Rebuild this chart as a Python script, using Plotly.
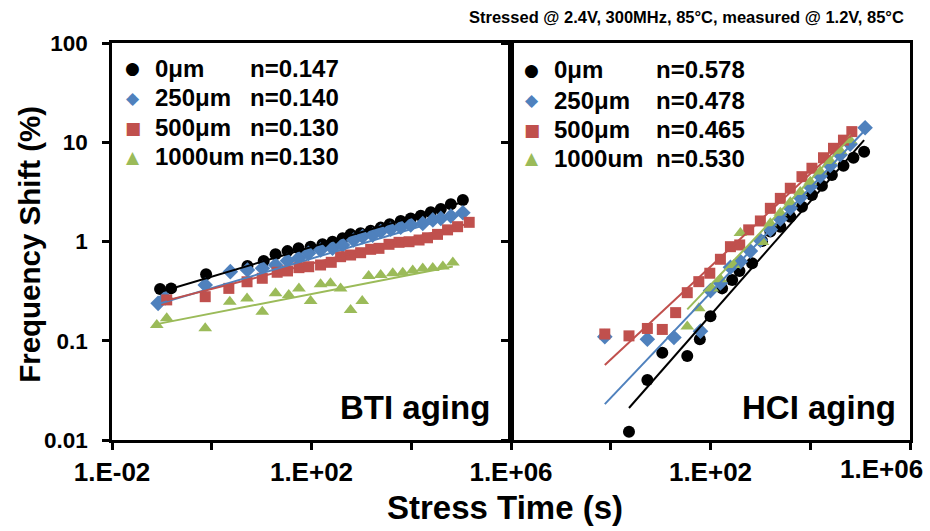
import plotly.graph_objects as go
from plotly.subplots import make_subplots

# ---------------- data (time in s, frequency shift in %) ----------------
NAMES = ["0μm", "250μm", "500μm", "1000um"]
COLORS = ["#000000", "#4F81BD", "#C0504D", "#9BBB59"]
SYMBOLS = ["circle", "diamond", "square", "triangle-up"]
GLYPHS = ["●", "◆", "■", "▲"]
N_BTI = ["n=0.147", "n=0.140", "n=0.130", "n=0.130"]
N_HCI = ["n=0.578", "n=0.478", "n=0.465", "n=0.530"]

# BTI aging
bti_t_0 = [0.092, 0.153, 0.77, 5.2, 11, 19, 33, 55, 96, 166, 264, 420, 608, 966,
           1535, 2438, 3698, 6150, 9770, 15520, 24660, 39170, 62230, 108400]
bti_v_0 = [0.332, 0.337, 0.468, 0.567, 0.637, 0.743, 0.80, 0.855, 0.887, 0.938, 0.995,
           1.08, 1.18, 1.21, 1.28, 1.38, 1.49, 1.61, 1.71, 1.82, 1.97, 2.12, 2.37, 2.62]
bti_t_250 = [0.084, 0.116, 0.74, 2.36, 5.2, 10.4, 19, 33, 55, 87, 152, 264, 420, 698,
             1060, 1683, 2438, 3873, 6150, 9770, 17020, 27040, 39170, 62230, 108400]
bti_v_250 = [0.238, 0.27, 0.365, 0.497, 0.516, 0.537, 0.58, 0.641, 0.678, 0.76, 0.82,
             0.855, 0.92, 1.035, 1.12, 1.16, 1.26, 1.33, 1.39, 1.47, 1.52, 1.65, 1.71,
             1.81, 1.95]
bti_t_500 = [0.125, 0.74, 2.2, 5.1, 10.3, 20.5, 33, 56, 88, 152, 249, 383, 608, 966,
             1535, 2254, 3580, 5690, 9030, 14350, 21180, 33650, 53460, 84920, 145200]
bti_v_500 = [0.258, 0.278, 0.337, 0.393, 0.426, 0.49, 0.505, 0.545, 0.557, 0.58, 0.617,
             0.703, 0.731, 0.771, 0.834, 0.853, 0.937, 0.981, 0.995, 1.035, 1.09, 1.18,
             1.31, 1.41, 1.56]
bti_t_1000 = [0.079, 0.125, 0.74, 2.3, 5.1, 10.3, 19, 35, 56, 96, 152, 240, 383, 608,
              1040, 1400, 2438, 4250, 6750, 10700, 17000, 27000, 43000, 68200]
bti_v_1000 = [0.144, 0.169, 0.134, 0.247, 0.267, 0.196, 0.301, 0.289, 0.337, 0.251,
              0.371, 0.38, 0.337, 0.204, 0.251, 0.45, 0.46, 0.48, 0.485, 0.51, 0.535,
              0.54, 0.56, 0.615]

# HCI aging
hci_t_0 = [2.32, 5.42, 10.8, 34.2, 61.1, 100, 171, 272, 380, 682, 1081, 1585, 2512,
           3981, 6823, 10810, 17140, 27160, 46340, 73450, 120200]
hci_v_0 = [0.0121, 0.0403, 0.0759, 0.0702, 0.1035, 0.177, 0.337, 0.409, 0.505, 0.603,
           1.01, 1.26, 1.41, 1.78, 2.24, 2.94, 3.65, 4.68, 5.8, 6.98, 8.03]
hci_t_250 = [0.76, 5.42, 18.5, 63, 100, 158, 251, 398, 631, 1000, 1585, 2512, 3981,
             6310, 10000, 15850, 25120, 39810, 63100, 125900]
hci_v_250 = [0.11, 0.1035, 0.108, 0.125, 0.32, 0.382, 0.55, 0.627, 0.80, 1.03, 1.32,
             1.69, 2.17, 2.77, 3.56, 4.56, 5.83, 7.48, 9.58, 14.0]
hci_t_500 = [0.76, 2.32, 5.42, 10.8, 20, 34.2, 58.3, 96.8, 158, 251, 385, 583, 1000,
             1585, 2512, 3981, 6823, 10810, 18450, 29240, 46340, 68230]
hci_v_500 = [0.117, 0.112, 0.133, 0.130, 0.192, 0.305, 0.394, 0.479, 0.662, 0.887,
             0.923, 1.31, 1.61, 2.16, 2.72, 3.44, 4.5, 5.47, 6.98, 8.69, 10.5, 12.8]
hci_t_1000 = [34.2, 58.3, 108, 158, 292, 398, 1100, 1585, 2512, 3981, 6310, 10000,
              15850, 25120, 39810, 63100]
hci_v_1000 = [0.139, 0.212, 0.337, 0.416, 0.58, 1.22, 0.99, 1.53, 1.95, 2.48, 3.15,
              4.01, 5.08, 6.47, 8.22, 10.5]

# power-law trend lines (start / end points)
fit_bti_t0 = [0.092, 0.084, 0.125, 0.079]
fit_bti_v0 = [0.31, 0.235, 0.255, 0.147]
fit_bti_t1 = [108400, 108400, 145200, 68200]
fit_bti_v1 = [2.5, 1.9, 1.52, 0.56]
fit_hci_t0 = [2.32, 0.76, 0.76, 34.2]
fit_hci_v0 = [0.021, 0.023, 0.057, 0.207]
fit_hci_t1 = [120200, 125900, 68230, 63100]
fit_hci_v1 = [10.5, 13.3, 11.8, 11.0]

BTI = [(bti_t_0, bti_v_0), (bti_t_250, bti_v_250), (bti_t_500, bti_v_500), (bti_t_1000, bti_v_1000)]
HCI = [(hci_t_0, hci_v_0), (hci_t_250, hci_v_250), (hci_t_500, hci_v_500), (hci_t_1000, hci_v_1000)]
FIT_BTI = (fit_bti_t0, fit_bti_v0, fit_bti_t1, fit_bti_v1)
FIT_HCI = (fit_hci_t0, fit_hci_v0, fit_hci_t1, fit_hci_v1)

X_TICKS = [1e-2, 1, 1e2, 1e4, 1e6]
X_TEXT_L = ["1.E-02", "", "1.E+02", "", "1.E+06"]
X_TEXT_R = ["", "", "1.E+02", "", ""]
X_EDGE_LABEL = "1.E+06"
Y_TICKS = [0.01, 0.1, 1, 10, 100]
Y_TEXT = ["0.01", "0.1", "1", "10", "100"]

FONT = "Liberation Sans, Arial, sans-serif"
MSIZE = [12, 12, 11, 12]

fig = make_subplots(rows=1, cols=2, horizontal_spacing=0)

def add_panel(data, fit, col):
    for i, (t, v) in enumerate(data):
        fig.add_trace(go.Scatter(
            x=t, y=v, mode="markers", name=NAMES[i],
            marker=dict(symbol=SYMBOLS[i], color=COLORS[i], size=MSIZE[i], line=dict(width=0)),
        ), row=1, col=col)
    t0, v0, t1, v1 = fit
    for i in range(len(data)):
        fig.add_trace(go.Scatter(
            x=[t0[i], t1[i]], y=[v0[i], v1[i]], mode="lines", showlegend=False,
            line=dict(color=COLORS[i], width=2),
        ), row=1, col=col)

add_panel(BTI, FIT_BTI, 1)
add_panel(HCI, FIT_HCI, 2)

axis_common = dict(type="log", showgrid=False, zeroline=False, showline=True,
                   linecolor="black", linewidth=2.5, mirror=True, automargin=False,
                   ticks="outside", ticklen=7, tickwidth=2.5, tickcolor="black")

XTICKFONT = dict(family=FONT, size=26, color="black", weight="bold")
fig.update_xaxes(**axis_common, range=[-2, 6], tickvals=X_TICKS, tickfont=XTICKFONT)
fig.update_xaxes(ticktext=X_TEXT_L, row=1, col=1)
fig.update_xaxes(ticktext=X_TEXT_R, row=1, col=2)
fig.update_yaxes(**axis_common, range=[-2, 2], tickvals=Y_TICKS, ticktext=Y_TEXT,
                 tickfont=dict(family=FONT, size=22.5, color="black", weight="bold"),
                 ticklabelstandoff=10)
fig.update_yaxes(showticklabels=False, row=1, col=2)

def ann(text, x, y, size, xanchor="left", yanchor="middle", angle=0, color="black", family=FONT):
    fig.add_annotation(text=text, x=x, y=y, xref="paper", yref="paper",
                       xanchor=xanchor, yanchor=yanchor, showarrow=False, textangle=angle,
                       font=dict(family=family, size=size, color=color, weight="bold"))

# custom legends (marker glyph, name, exponent)
ROWS_L = [0.937, 0.8615, 0.786, 0.713]
ROWS_R = [0.932, 0.856, 0.781, 0.710]
for i in range(4):
    ann(GLYPHS[i], 0.0263, ROWS_L[i], 17, xanchor="center", color=COLORS[i], family="DejaVu Sans")
    ann(NAMES[i], 0.0514, ROWS_L[i], 24)
    ann(N_BTI[i], 0.1704, ROWS_L[i], 24)
    ann(GLYPHS[i], 0.5263, ROWS_R[i], 17, xanchor="center", color=COLORS[i], family="DejaVu Sans")
    ann(NAMES[i], 0.5514, ROWS_R[i], 24)
    ann(N_HCI[i], 0.6792, ROWS_R[i], 24)

# last x label of the right panel, pulled inside the figure as in the original
ann(X_EDGE_LABEL, 0.9637, -0.073, 26, xanchor="center")

ann("BTI aging", 0.476, 0.083, 33, xanchor="right")
ann("HCI aging", 0.985, 0.083, 33, xanchor="right")
ann("Stressed @ 2.4V, 300MHz, 85°C, measured @ 1.2V, 85°C", 0.995, 1.0655, 16.5,
    xanchor="right")
ann("Frequency Shift (%)", -0.1028, 0.494, 29.5, xanchor="center", angle=-90)
ann("Stress Time (s)", 0.4925, -0.169, 33, xanchor="center")

fig.update_layout(
    width=930, height=531,
    margin=dict(l=112, r=20, t=43, b=91, autoexpand=False),
    paper_bgcolor="white", plot_bgcolor="white",
    showlegend=False,
)

fig.write_html("out.html")
